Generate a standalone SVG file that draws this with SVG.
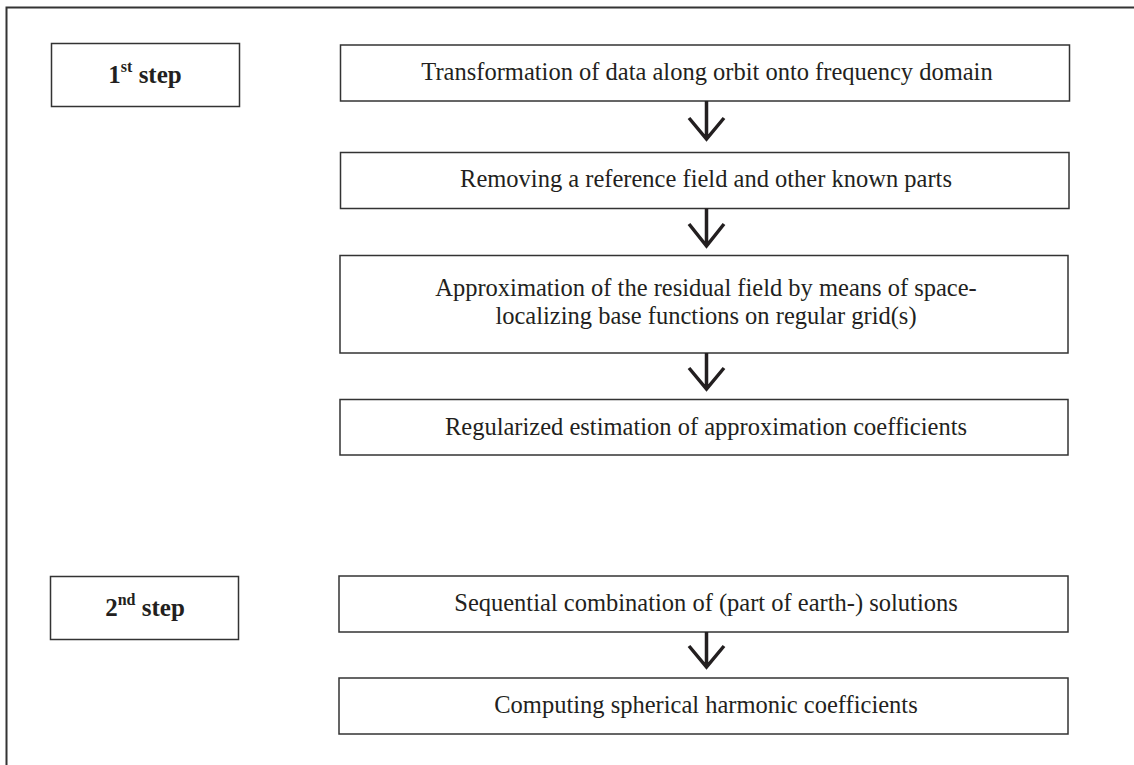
<svg xmlns="http://www.w3.org/2000/svg" width="1134" height="765" viewBox="0 0 1134 765">
<style>
.box{fill:#fff;stroke:#333;stroke-width:1.5}
.t{font-family:"Liberation Serif",serif;font-size:24.5px;fill:#231f20;text-anchor:middle}
.s{font-family:"Liberation Serif",serif;font-size:25px;font-weight:bold;fill:#231f20;text-anchor:middle}
.arr{fill:none;stroke:#231f20;stroke-width:3.5}
</style>
<rect width="1134" height="765" fill="#fff"/>
<path d="M1134 7.5H6.5V765" fill="none" stroke="#333" stroke-width="2"/>
<g id="step1"><rect class="box" x="51.5" y="43.5" width="188" height="63"/><text class="s" x="145" y="82.5">1<tspan font-size="16" dy="-11">st</tspan><tspan dy="11"> step</tspan></text></g>
<g id="step2"><rect class="box" x="50.5" y="576.5" width="188" height="63"/><text class="s" x="145" y="615.5">2<tspan font-size="16" dy="-11">nd</tspan><tspan dy="11"> step</tspan></text></g>
<g id="n1"><rect class="box" x="340.5" y="45" width="729" height="56"/><text class="t" x="707" y="80">Transformation of data along orbit onto frequency domain</text></g>
<g id="n2"><rect class="box" x="340.5" y="152.5" width="728.5" height="56"/><text class="t" x="706" y="187">Removing a reference field and other known parts</text></g>
<g id="n3"><rect class="box" x="340" y="255.5" width="728" height="97.5"/><text class="t" x="706" y="295.5">Approximation of the residual field by means of space-</text><text class="t" x="706" y="323.5">localizing base functions on regular grid(s)</text></g>
<g id="n4"><rect class="box" x="340" y="399.5" width="728" height="55.5"/><text class="t" x="706" y="435">Regularized estimation of approximation coefficients</text></g>
<g id="n5"><rect class="box" x="339" y="576" width="729" height="56"/><text class="t" x="706" y="611">Sequential combination of (part of earth-) solutions</text></g>
<g id="n6"><rect class="box" x="339" y="678" width="729" height="56"/><text class="t" x="706" y="713">Computing spherical harmonic coefficients</text></g>
<g id="connectors">
<path class="arr" d="M706.5 101V139M689 118L706.5 139L724 118"/>
<path class="arr" d="M706.5 208.5V246M689 224L706.5 246L724 224"/>
<path class="arr" d="M706.5 353V389M689 368L706.5 389L724 368"/>
<path class="arr" d="M706.5 632V667M689 646L706.5 667L724 646"/>
</g>
</svg>
